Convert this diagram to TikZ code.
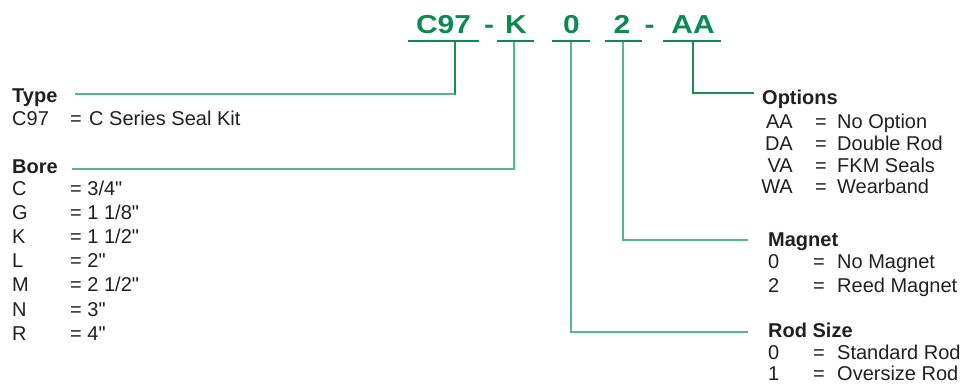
\documentclass[tikz,border=0pt]{standalone}
\usepackage{fontspec}
\setmainfont{Liberation Sans}[Ligatures=TeXOff]
\definecolor{codegreen}{HTML}{0B8A52}
\definecolor{darkline}{HTML}{1A9050}
\definecolor{lightline}{HTML}{55B78C}
\definecolor{txt}{HTML}{231F20}
\tikzset{
  code/.style={inner sep=0pt, anchor=base, text=codegreen, font=\fontsize{26}{26}\selectfont\bfseries, xscale=1.15, transform shape},
  uline/.style={draw=codegreen, line width=2.6pt},
  darkconn/.style={draw=darkline, line width=1.4pt},
  lightconn/.style={draw=lightline, line width=1.4pt},
  lbl/.style={inner sep=0pt, anchor=base west, text=txt, font=\fontsize{20}{24}\selectfont},
  lblr/.style={inner sep=0pt, anchor=base east, text=txt, font=\fontsize{20}{24}\selectfont},
  head/.style={inner sep=0pt, anchor=base west, text=txt, font=\fontsize{20}{24}\selectfont\bfseries},
}
\begin{document}
\begin{tikzpicture}[x=1pt,y=-1pt]
\useasboundingbox (0,0) rectangle (964,388);
% code
\node[code] (cC) at (443.5,34) {C97};
\node[code] (d1) at (489,34) {-};
\node[code] (cK) at (516,34) {K};
\node[code] (c0) at (571.5,34) {0};
\node[code] (c2) at (622,34) {2};
\node[code] (d2) at (649.5,34) {-};
\node[code] (cA) at (693,34) {AA};
% underlines
\draw[uline] (408,41) coordinate (uCl) -- (479,41) coordinate (uCr);
\draw[uline] (497,41) coordinate (uKl) -- (534,41) coordinate (uKr);
\draw[uline] (552,41) coordinate (u0l) -- (590,41) coordinate (u0r);
\draw[uline] (605,41) coordinate (u2l) -- (642,41) coordinate (u2r);
\draw[uline] (663,41) coordinate (uAl) -- (721,41) coordinate (uAr);
\coordinate (vC) at (455,42);
\coordinate (vK) at (514,42);
\coordinate (v0) at (571,42);
\coordinate (v2) at (623,42);
\coordinate (vA) at (693,42);
% left: Type
\node[head] (type) at (12,102) {Type};
\node[lbl] (t1a) at (12,125) {C97};
\node[lbl] (t1b) at (70,125) {=};
\node[lbl] (t1c) at (89,125) {C Series Seal Kit};
\coordinate (tT) at (75,94);
% left: Bore
\node[head] (bore) at (12,173) {Bore};
\coordinate (tB) at (72,169);
\foreach \k/\v/\y in {C/3\slash4"/195, G/1 1\slash8"/219.2, K/1 1\slash2"/243.4, L/2"/267.6, M/2 1\slash2"/291.8, N/3"/316, R/4"/340.2}{
  \node[lbl] at (12,\y) {\k};
  \node[lbl] at (70,\y) {= \v};
}
% right: Options
\node[head] (opt) at (762,104) {Options};
\coordinate (tO) at (754,93);
\foreach \k/\v/\y in {AA/No Option/128, DA/Double Rod/150, VA/FKM Seals/172, WA/Wearband/193}{
  \node[lblr] at (793,\y) {\k};
  \node[lbl] at (815,\y) {=};
  \node[lbl] at (837,\y) {\v};
}
% right: Magnet
\node[head] (mag) at (768,246) {Magnet};
\coordinate (tM) at (748,240);
\foreach \k/\v/\y in {0/No Magnet/268, 2/Reed Magnet/292}{
  \node[lbl] at (768,\y) {\k};
  \node[lbl] at (813,\y) {=};
  \node[lbl] at (837,\y) {\v};
}
% right: Rod Size
\node[head] (rod) at (768,337) {Rod Size};
\coordinate (tR) at (748,332);
\foreach \k/\v/\y in {0/Standard Rod/359, 1/Oversize Rod/380}{
  \node[lbl] at (768,\y) {\k};
  \node[lbl] at (813,\y) {=};
  \node[lbl] at (837,\y) {\v};
}
% connectors
\draw[darkconn] (vC) |- (tT);
\draw[lightconn] (vC |- tT) -- (tT);
\draw[lightconn] (vK) |- (tB);
\draw[lightconn] (v0) |- (tR);
\draw[lightconn] (v2) |- (tM);
\draw[darkconn] (vA) |- (tO);
\end{tikzpicture}
\end{document}
